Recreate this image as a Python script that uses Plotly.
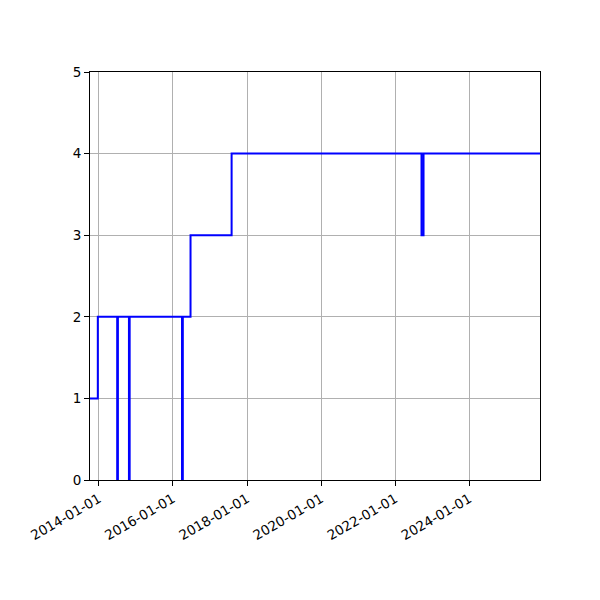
"""Step chart of a level that changes over time, with a few short dips."""
import plotly.graph_objects as go

# change points: date from which the level holds (step "post" style)
dates = [
    "2013-10-06", "2013-12-22",
    "2014-07-01", "2014-07-08",
    "2014-10-25", "2014-11-01",
    "2016-03-31", "2016-04-08",
    "2016-06-23", "2017-08-02",
    "2022-09-17", "2022-10-07",
    "2025-11-28",
]
levels = [1, 2, 0, 2, 0, 2, 0, 2, 3, 4, 3, 4, 4]

x_range = ["2013-10-06", "2025-11-28"]
x_ticks = ["2014-01-01", "2016-01-01", "2018-01-01", "2020-01-01",
           "2022-01-01", "2024-01-01"]
y_ticks = [0, 1, 2, 3, 4, 5]

fig = go.Figure()
fig.add_trace(go.Scatter(
    x=dates, y=levels, mode="lines", line_shape="hv",
    line=dict(color="#0000ff", width=2), showlegend=False,
    hoverinfo="x+y"))

axis_common = dict(
    showline=True, linecolor="black", linewidth=1, mirror=True,
    ticks="outside", ticklen=5, tickcolor="black", tickwidth=1,
    showgrid=True, gridcolor="#b0b0b0", gridwidth=1, zeroline=False,
    tickfont=dict(family="DejaVu Sans", size=13.5, color="black"))

# page body adds 8px, so margins are shifted to keep the plot box in place
fig.update_layout(
    width=600, height=600, plot_bgcolor="white", paper_bgcolor="white",
    margin=dict(l=82, r=68, t=64, b=128),
    xaxis=dict(type="date", range=x_range, tickvals=x_ticks,
               ticktext=x_ticks, tickangle=-30, **axis_common),
    yaxis=dict(range=[0, 5], tickvals=y_ticks, **axis_common))

fig.write_html("out.html")
